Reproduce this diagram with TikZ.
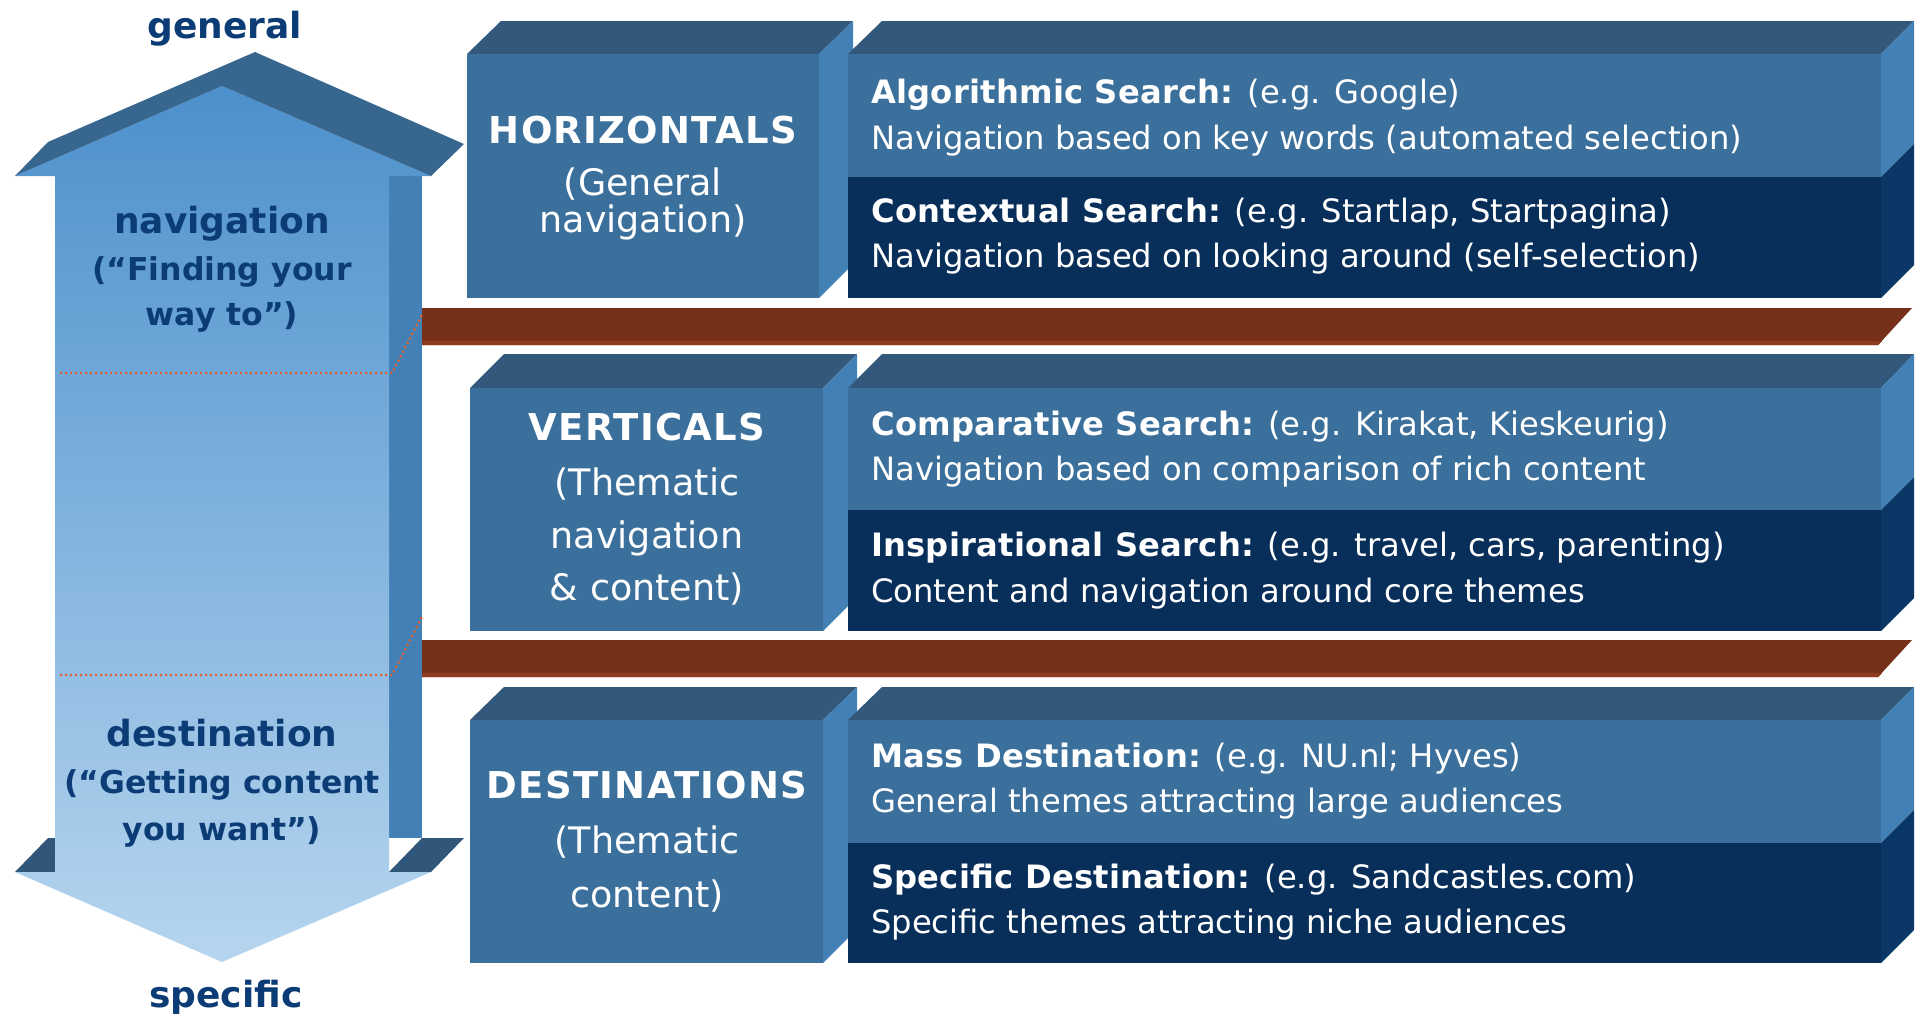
\documentclass[tikz,border=0pt]{standalone}
\usepackage{fontspec}
\setmainfont{DejaVu Sans}
\definecolor{boxfront}{RGB}{60,112,156}
\definecolor{boxtop}{RGB}{50,89,124}
\definecolor{boxside}{RGB}{67,128,181}
\definecolor{boxdark}{RGB}{8,46,90}
\definecolor{boxsidedark}{RGB}{10,55,102}
\definecolor{barbrown}{RGB}{118,48,26}
\definecolor{barlight}{RGB}{143,59,31}
\definecolor{roofdark}{RGB}{55,103,143}
\definecolor{headdark}{RGB}{48,87,122}
\definecolor{arrtop}{RGB}{76,144,204}
\definecolor{arrbot}{RGB}{182,213,239}
\definecolor{navytext}{RGB}{12,60,118}
\definecolor{guideorange}{RGB}{224,96,48}
\newcommand\bhead[1]{{\bfseries\addfontfeature{LetterSpace=0.7}#1}}
\begin{document}
\begin{tikzpicture}[x=1pt,y=-1pt,
  topface/.style={fill=boxtop},
  sideface/.style={fill=boxside},
  sidedarkface/.style={fill=boxsidedark},
  frontlight/.style={fill=boxfront},
  frontdark/.style={fill=boxdark},
  barshape/.style={fill=barbrown},
  baredge/.style={fill=barlight},
  guide/.style={draw=guideorange, line width=2.2pt, dash pattern=on 2pt off 3pt},
  arrowtitle/.style={text=navytext, anchor=base, inner sep=0pt, font=\fontsize{36}{40}\selectfont\bfseries},
  arrowsub/.style={text=navytext, anchor=base, inner sep=0pt, font=\fontsize{31.5}{36}\selectfont\bfseries},
  boxtitle/.style={text=white, anchor=base, inner sep=0pt, font=\fontsize{37}{40}\selectfont\bfseries\addfontfeature{LetterSpace=3.5}},
  boxsub/.style={text=white, anchor=base, inner sep=0pt, font=\fontsize{36.5}{40}\selectfont},
  itemtxt/.style={text=white, anchor=base west, inner sep=0pt, font=\fontsize{32.2}{36}\selectfont}]
\useasboundingbox (0,0) rectangle (1915,1013);

% ---------- brown bars ----------
\path[barshape] (389,308) -- (1912,308) -- (1878,345) -- (389,345) -- cycle;
\path[baredge] (389,341) -- (1882,341) -- (1878,345) -- (389,345) -- cycle;
\path[barshape] (389,640) -- (1912,640) -- (1878,677) -- (389,677) -- cycle;
\path[baredge] (389,673) -- (1882,673) -- (1878,677) -- (389,677) -- cycle;

% ---------- big arrow ----------
\path[sideface] (389,176) rectangle (422,838);
\path[fill=headdark] (15,872) -- (48,838) -- (55,838) -- (55,872) -- cycle;
\path[fill=headdark] (389,872) -- (422,838) -- (464,838) -- (431,872) -- cycle;
\shade[top color=arrtop, bottom color=arrbot]
  (15,176) -- (222,86) -- (431,176) -- (389,176) -- (389,872) -- (431,872)
  -- (222,962) -- (15,872) -- (55,872) -- (55,176) -- cycle;
\path[fill=roofdark] (15,176) -- (48,142) -- (255,52) -- (464,144) -- (431,176)
  -- (222,86) -- cycle;

% guide lines
\coordinate (g1a) at (60,373);
\coordinate (g1b) at (392,373);
\coordinate (g1c) at (422,315);
\coordinate (g2a) at (60,675);
\coordinate (g2b) at (392,675);
\coordinate (g2c) at (422,617);
\draw[guide] (g1a) -- (g1b) -- (g1c);
\draw[guide] (g2a) -- (g2b) -- (g2c);

\node[arrowtitle] (general) at (225,38) {general};
\node[arrowtitle] (specific) at (226,1007) {specific};
\node[arrowtitle] (nav1) at (222,233) {navigation};
\node[arrowsub] (nav2) at (222,280) {(“Finding your};
\node[arrowsub] (nav3) at (222,325) {way to”)};
\node[arrowtitle] (dest1) at (222,746) {destination};
\node[arrowsub] (dest2) at (222,793) {(“Getting content};
\node[arrowsub] (dest3) at (222,840) {you want”)};

% ---------- row 1 ----------
\path[topface] (467,54) -- (501,21) -- (853,21) -- (819,54) -- cycle;
\path[sideface] (819,54) -- (853,21) -- (853,264) -- (819,298) -- cycle;
\path[frontlight] (467,54) rectangle (819,298);
\path[topface] (848,54) -- (882,21) -- (1914,21) -- (1881,54) -- cycle;
\path[sideface] (1881,54) -- (1914,21) -- (1914,144) -- (1881,177) -- cycle;
\path[sidedarkface] (1881,177) -- (1914,144) -- (1914,265) -- (1881,298) -- cycle;
\path[frontlight] (848,54) rectangle (1881,177);
\path[frontdark] (848,177) rectangle (1881,298);

\node[boxtitle] (horiz) at (643,143) {HORIZONTALS};
\node[boxsub] (horiz2) at (643,195) {(General};
\node[boxsub] (horiz3) at (643,232) {navigation)};
\node[itemtxt] (algo1) at (871,103) {\bhead{Algorithmic Search:} (e.g. Google)};
\node[itemtxt] (algo2) at (871,149) {Navigation based on key words (automated selection)};
\node[itemtxt] (cont1) at (871,222) {\bhead{Contextual Search:} (e.g. Startlap, Startpagina)};
\node[itemtxt] (cont2) at (871,267) {Navigation based on looking around (self-selection)};

% ---------- row 2 ----------
\path[topface] (470,388) -- (504,354) -- (857,354) -- (823,388) -- cycle;
\path[sideface] (823,388) -- (857,354) -- (857,597) -- (823,631) -- cycle;
\path[frontlight] (470,388) rectangle (823,631);
\path[topface] (848,388) -- (882,354) -- (1914,354) -- (1881,388) -- cycle;
\path[sideface] (1881,388) -- (1914,354) -- (1914,477) -- (1881,510) -- cycle;
\path[sidedarkface] (1881,510) -- (1914,477) -- (1914,598) -- (1881,631) -- cycle;
\path[frontlight] (848,388) rectangle (1881,510);
\path[frontdark] (848,510) rectangle (1881,631);

\node[boxtitle] (vert) at (647,440) {VERTICALS};
\node[boxsub] (vert2) at (647,495) {(Thematic};
\node[boxsub] (vert3) at (647,548) {navigation};
\node[boxsub] (vert4) at (647,600) {\& content)};
\node[itemtxt] (comp1) at (871,435) {\bhead{Comparative Search:} (e.g. Kirakat, Kieskeurig)};
\node[itemtxt] (comp2) at (871,480) {Navigation based on comparison of rich content};
\node[itemtxt] (insp1) at (871,556) {\bhead{Inspirational Search:} (e.g. travel, cars, parenting)};
\node[itemtxt] (insp2) at (871,602) {Content and navigation around core themes};

% ---------- row 3 ----------
\path[topface] (470,720) -- (504,687) -- (857,687) -- (823,720) -- cycle;
\path[sideface] (823,720) -- (857,687) -- (857,929) -- (823,963) -- cycle;
\path[frontlight] (470,720) rectangle (823,963);
\path[topface] (848,720) -- (882,687) -- (1914,687) -- (1881,720) -- cycle;
\path[sideface] (1881,720) -- (1914,687) -- (1914,810) -- (1881,843) -- cycle;
\path[sidedarkface] (1881,843) -- (1914,810) -- (1914,930) -- (1881,963) -- cycle;
\path[frontlight] (848,720) rectangle (1881,843);
\path[frontdark] (848,843) rectangle (1881,963);

\node[boxtitle] (dest) at (647,798) {DESTINATIONS};
\node[boxsub] (dest2b) at (647,853) {(Thematic};
\node[boxsub] (dest3b) at (647,907) {content)};
\node[itemtxt] (mass1) at (871,767) {\bhead{Mass Destination:} (e.g. NU.nl; Hyves)};
\node[itemtxt] (mass2) at (871,812) {General themes attracting large audiences};
\node[itemtxt] (spec1) at (871,888) {\bhead{Specific Destination:} (e.g. Sandcastles.com)};
\node[itemtxt] (spec2) at (871,933) {Specific themes attracting niche audiences};
\end{tikzpicture}
\end{document}
